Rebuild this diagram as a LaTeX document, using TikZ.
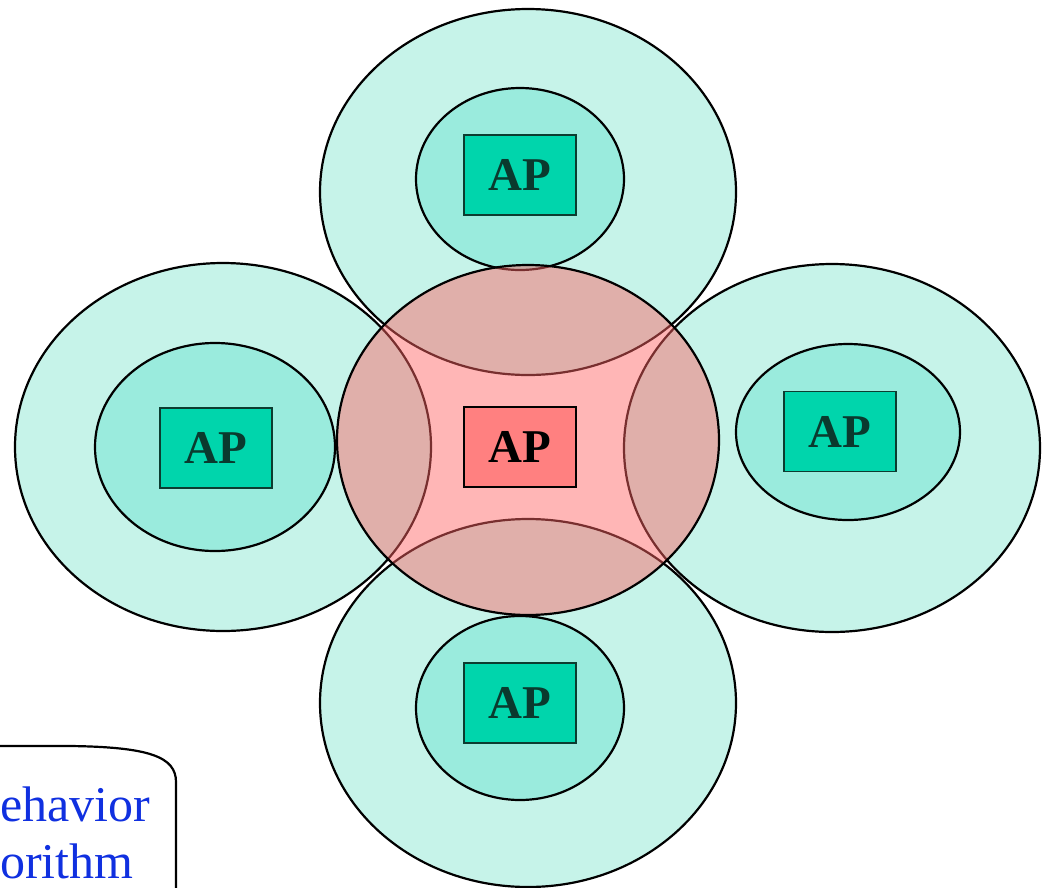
\documentclass[tikz,border=0pt]{standalone}
\usepackage{fontspec}
\setmainfont{Liberation Serif}
\definecolor{cyanO}{RGB}{198,243,233}
\definecolor{cyanI}{RGB}{154,235,221}
\definecolor{apfill}{RGB}{0,213,172}
\definecolor{boxline}{RGB}{12,60,48}
\definecolor{aptext}{RGB}{10,58,46}
\definecolor{pinkC}{RGB}{255,100,100}
\definecolor{redbox}{RGB}{255,128,128}
\definecolor{blueT}{RGB}{16,48,224}
\begin{document}
\begin{tikzpicture}[x=1pt,y=-1pt,
  outer/.style={draw=black, line width=2.2pt, fill=cyanO},
  inner/.style={draw=black, line width=2.2pt, fill=cyanI},
  apbox/.style={draw=boxline, line width=1.8pt, fill=apfill, minimum width=112pt, minimum height=80pt, inner sep=0pt, font=\bfseries\fontsize{47}{47}\selectfont, text=aptext},
  bluetext/.style={anchor=base west, inner sep=0pt, text=blueT, font=\fontsize{50}{50}\selectfont}
]
\useasboundingbox (0,0) rectangle (1042,887);
% outer coverage areas
\filldraw[outer] (528,192) ellipse [x radius=208pt, y radius=183pt];
\filldraw[outer] (223,447) ellipse [x radius=208pt, y radius=184pt];
\filldraw[outer] (832,448) ellipse [x radius=208pt, y radius=184pt];
\filldraw[outer] (528,703) ellipse [x radius=208pt, y radius=184pt];
% inner areas
\filldraw[inner] (520,179) ellipse [x radius=104pt, y radius=91pt];
\filldraw[inner] (215,447) ellipse [x radius=120pt, y radius=104pt];
\filldraw[inner] (848,432) ellipse [x radius=112pt, y radius=88pt];
\filldraw[inner] (520,708) ellipse [x radius=104pt, y radius=92pt];
% central area
\filldraw[draw=black, line width=2.2pt, fill=pinkC, fill opacity=0.47] (528,440) ellipse [x radius=191pt, y radius=175pt];
% access points
\node[apbox] (apT) at (520,175) {AP};
\node[apbox] (apL) at (216,448) {AP};
\node[apbox] (apR) at (840,431.5) {AP};
\node[apbox] (apB) at (520,703) {AP};
\node[apbox, fill=redbox, draw=black, text=black] (apC) at (520,447) {AP};
% bottom-left text box
\draw[line width=2.2pt] (-5,746) -- (70,746) .. controls (150,747) and (176,757) .. (176,782) -- (176,895);
\node[bluetext] (t1) at (0,821) {ehavior};
\node[bluetext] (t2) at (0,878) {orithm};
\end{tikzpicture}
\end{document}
